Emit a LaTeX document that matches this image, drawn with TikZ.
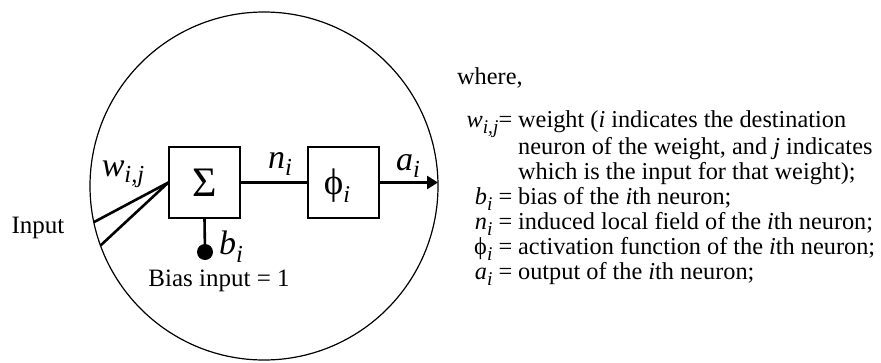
\documentclass[tikz,border=0pt]{standalone}
\usepackage{fontspec}
\setmainfont{Liberation Serif}
\usetikzlibrary{arrows.meta}
\newcommand\isub[3][0.4ex]{\textit{#2}\raisebox{-#1}{\scalebox{0.72}{\textit{#3}}}}
\newcommand\lsub[2]{\textit{#1}\raisebox{-0.55ex}{\scalebox{0.8}{\textit{#2}}}}
\newcommand\phisym{\upshape ϕ}
\newcommand\deflbl[1]{\makebox[55pt][r]{#1}}
\begin{document}
\begin{tikzpicture}[x=1pt,y=-1pt,
  box/.style={draw,line width=1.3pt,minimum size=71pt,inner sep=0pt},
  wire/.style={line width=2.6pt},
  lbl/.style={inner sep=0pt,font=\fontsize{34}{36}\selectfont},
  txt/.style={inner sep=0pt,font=\fontsize{25}{30}\selectfont},
  deftxt/.style={inner sep=0pt,anchor=base west,font=\fontsize{24.3}{25}\selectfont}]
\useasboundingbox (0,0) rectangle (881,362);
\node[draw,circle,line width=1.2pt,minimum size=348pt,inner sep=0pt,outer sep=0pt] (neuron) at (264,186) {};
\node[box,font=\fontsize{42}{44}\selectfont] (sigma) at (204.5,182.5) {Σ};
\node[box] (phi) at (343.5,182.5) {};
\node[lbl,font=\fontsize{37}{37}\selectfont] (philbl) at (337,186) {\phisym\raisebox{-0.45ex}{\scalebox{0.65}{\textit{i}}}};
\node[circle,fill,inner sep=0pt,minimum size=16pt] (dot) at (205,252) {};
\draw[line width=2.6pt] (sigma.south) -- (dot.center);
\draw[wire] (sigma.east) -- (phi.west);
\draw[wire,-{Triangle[length=11pt,width=13pt]}] (phi.east) -- (phi.east -| neuron.east);
\coordinate (in1) at (neuron.192.6);
\coordinate (in2) at (neuron.200.7);
\draw[wire] (in1) -- (sigma.west);
\draw[wire] (in2) -- (sigma.west);
\node[lbl] (wlbl) at (123,174) {\isub{w}{i,j}};
\node[lbl] (nlbl) at (280,164) {\isub{n}{i}};
\node[lbl] (albl) at (408,166) {\isub{a}{i}};
\node[lbl] (blbl) at (231,247) {\isub[0.5ex]{b}{i}};
\node[txt] (input) at (38,228) {Input};
\node[txt] (bias) at (219,281) {Bias input = 1};
\node[deftxt] (where) at (457,84) {where,};
\node[deftxt] (defs) at (457,127) {%
\begin{tabular}[t]{@{}l@{\hspace{6pt}}l@{}}
\deflbl{\lsub{w}{i,j}=} & weight (\textit{i} indicates the destination\\
 & neuron of the weight, and \textit{j} indicates\\
 & which is the input for that weight);\\
\deflbl{\lsub{b}{i} =} & bias of the \textit{i}th neuron;\\
\deflbl{\lsub{n}{i} =} & induced local field of the \textit{i}th neuron;\\
\deflbl{\phisym\raisebox{-0.55ex}{\scalebox{0.8}{\textit{i}}} =} & activation function of the \textit{i}th neuron;\\
\deflbl{\lsub{a}{i} =} & output of the \textit{i}th neuron;
\end{tabular}};
\end{tikzpicture}
\end{document}
